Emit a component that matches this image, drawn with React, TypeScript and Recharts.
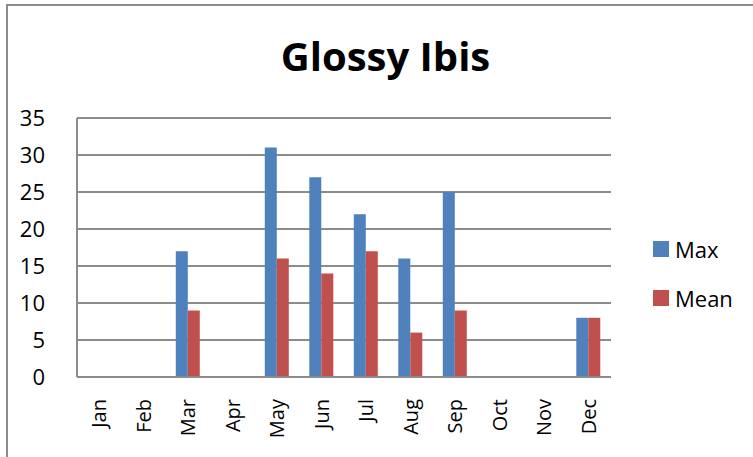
import React from 'react';
import { BarChart, Bar, XAxis, YAxis, CartesianGrid } from 'recharts';

const MONTHS = ['Jan', 'Feb', 'Mar', 'Apr', 'May', 'Jun', 'Jul', 'Aug', 'Sep', 'Oct', 'Nov', 'Dec'];
const MAX_VALUES = [0, 0, 17, 0, 31, 27, 22, 16, 25, 0, 0, 8];
const MEAN_VALUES = [0, 0, 9, 0, 16, 14, 17, 6, 9, 0, 0, 8];
const Y_TICKS = [0, 5, 10, 15, 20, 25, 30, 35];

const SERIES = [
  { key: 'Max', color: '#4F81BD' },
  { key: 'Mean', color: '#C0504D' },
];

const chartData = MONTHS.map((month, i) => ({
  month,
  Max: MAX_VALUES[i],
  Mean: MEAN_VALUES[i],
}));

const FONT = '"Open Sans", sans-serif';

const YTick = (props: any) => {
  const { x, y, payload } = props;
  return (
    <text x={x - 24} y={y} dy={8} textAnchor="end" fontSize={22} fontFamily={FONT} fill="#000">
      {payload.value}
    </text>
  );
};

const XTick = (props: any) => {
  const { x, y, payload } = props;
  return (
    <text
      x={0}
      y={0}
      dy={7}
      textAnchor="end"
      fontSize={20}
      fontFamily={FONT}
      fill="#000"
      transform={`translate(${x},${y + 14}) rotate(-90)`}
    >
      {payload.value}
    </text>
  );
};

const App: React.FC = () => {
  return (
    <div style={{ position: 'absolute', left: 0, top: 0, width: 753, height: 457, background: '#fff', overflow: 'hidden' }}>
      <div
        style={{
          position: 'absolute',
          left: 6,
          top: 4,
          width: 760,
          height: 470,
          borderLeft: '2px solid #8c8c8c',
          borderTop: '2px solid #8c8c8c',
        }}
      />
      <div
        style={{
          position: 'absolute',
          left: 0,
          top: 26,
          width: 771,
          textAlign: 'center',
          fontFamily: FONT,
          fontWeight: 700,
          fontSize: 40,
          lineHeight: '60px',
          color: '#000',
        }}
      >
        Glossy Ibis
      </div>
      <div style={{ position: 'absolute', left: 0, top: 0 }}>
        <BarChart
          width={753}
          height={457}
          data={chartData}
          margin={{ top: 118, right: 142, bottom: 0, left: 0 }}
          barGap={0}
          barCategoryGap="22%"
        >
          <CartesianGrid vertical={false} stroke="#8c8c8c" strokeWidth={2} />
          <XAxis
            dataKey="month"
            tick={<XTick />}
            tickLine={false}
            axisLine={{ stroke: '#8c8c8c', strokeWidth: 2 }}
            interval={0}
            height={80}
          />
          <YAxis
            domain={[0, 35]}
            ticks={Y_TICKS}
            tick={<YTick />}
            tickLine={false}
            axisLine={{ stroke: '#8c8c8c', strokeWidth: 2 }}
            width={77}
            interval={0}
          />
          {SERIES.map((s) => (
            <Bar key={s.key} dataKey={s.key} fill={s.color} isAnimationActive={false} />
          ))}
        </BarChart>
      </div>
      <div style={{ position: 'absolute', left: 653, top: 233, fontFamily: FONT, fontSize: 22, color: '#000' }}>
        {SERIES.map((s, i) => (
          <div key={s.key} style={{ display: 'flex', alignItems: 'center', height: 32, marginBottom: i === 0 ? 17 : 0 }}>
            <span style={{ width: 16, height: 16, background: s.color, display: 'inline-block', marginRight: 6 }} />
            <span>{s.key}</span>
          </div>
        ))}
      </div>
    </div>
  );
};

export default App;
